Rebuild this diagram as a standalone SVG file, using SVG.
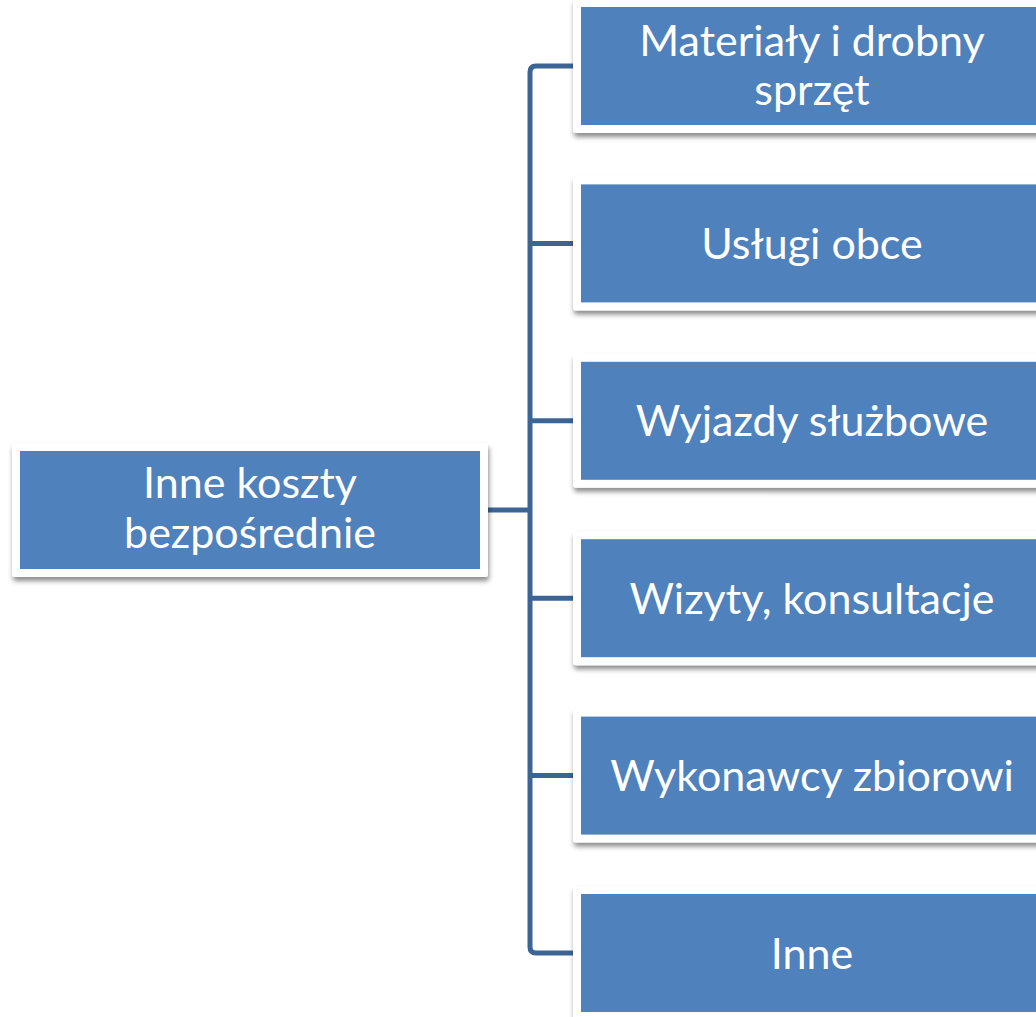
<svg xmlns="http://www.w3.org/2000/svg" width="1036" height="1017" viewBox="0 0 1036 1017">
<defs>
<filter id="sh" x="-10%" y="-20%" width="130%" height="150%">
<feDropShadow dx="1" dy="4" stdDeviation="2.5" flood-color="#000" flood-opacity="0.45"/>
</filter>
</defs>
<style>
.frame{fill:#ffffff;filter:url(#sh)}
.box{fill:#4f81bd}
.lbl{font-family:Lato,"Open Sans","DejaVu Sans",sans-serif;font-size:43px;fill:#ffffff;text-anchor:middle}
.conn{fill:none;stroke:#3c6494;stroke-width:5;stroke-linejoin:round}
</style>
<rect width="1036" height="1017" fill="#ffffff"/>
<g id="connectors">
<path class="conn" d="M488 510 H530"/>
<path class="conn" d="M573 66 H536 Q530 66 530 72 V947 Q530 953 536 953 H573"/>
<path class="conn" d="M530 243.4 H573"/>
<path class="conn" d="M530 420.8 H573"/>
<path class="conn" d="M530 598.2 H573"/>
<path class="conn" d="M530 775.6 H573"/>
</g>
<g id="root">
<rect class="frame" x="12" y="443" width="476" height="134" rx="3"/>
<rect class="box" x="20" y="451" width="460" height="118"/>
<text class="lbl" x="250" y="498">Inne koszty</text>
<text class="lbl" x="250" y="548">bezpośrednie</text>
</g>
<g id="n1">
<rect class="frame" x="573" y="-1" width="480" height="134" rx="3"/>
<rect class="box" x="581" y="7" width="464" height="118"/>
<text class="lbl" x="812" y="56">Materiały i drobny</text>
<text class="lbl" x="812" y="105">sprzęt</text>
</g>
<g id="n2">
<rect class="frame" x="573" y="176.4" width="480" height="134" rx="3"/>
<rect class="box" x="581" y="184.4" width="464" height="118"/>
<text class="lbl" x="812" y="259">Usługi obce</text>
</g>
<g id="n3">
<rect class="frame" x="573" y="353.8" width="480" height="134" rx="3"/>
<rect class="box" x="581" y="361.8" width="464" height="118"/>
<text class="lbl" x="812" y="436">Wyjazdy służbowe</text>
</g>
<g id="n4">
<rect class="frame" x="573" y="531.2" width="480" height="134" rx="3"/>
<rect class="box" x="581" y="539.2" width="464" height="118"/>
<text class="lbl" x="812" y="614">Wizyty, konsultacje</text>
</g>
<g id="n5">
<rect class="frame" x="573" y="708.6" width="480" height="134" rx="3"/>
<rect class="box" x="581" y="716.6" width="464" height="118"/>
<text class="lbl" x="812" y="791">Wykonawcy zbiorowi</text>
</g>
<g id="n6">
<rect class="frame" x="573" y="886" width="480" height="134" rx="3"/>
<rect class="box" x="581" y="894" width="464" height="118"/>
<text class="lbl" x="812" y="969">Inne</text>
</g>
</svg>
